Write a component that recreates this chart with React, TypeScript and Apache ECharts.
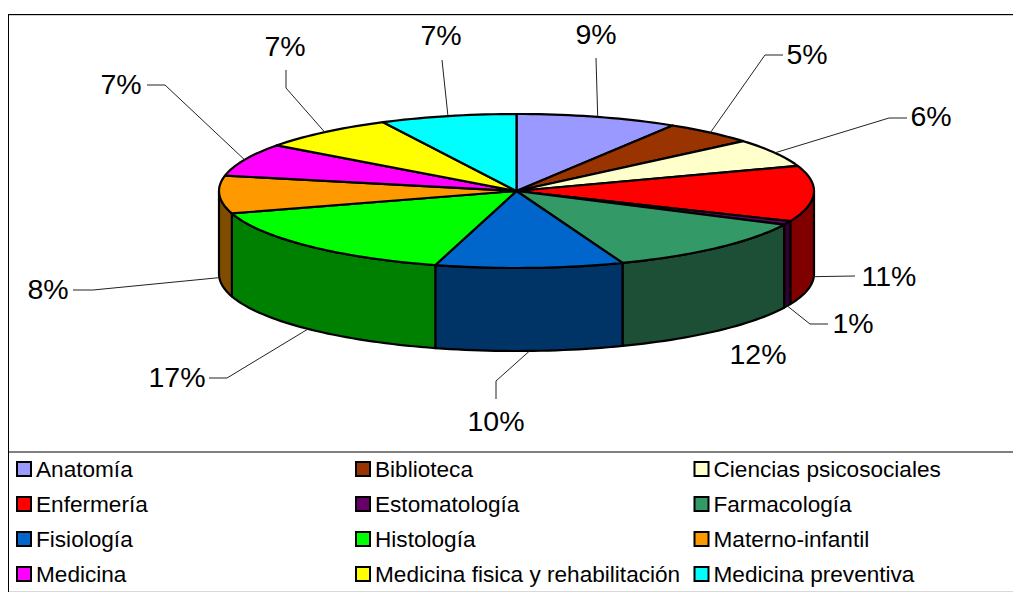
import React, { useEffect, useRef } from "react";
import * as echarts from "echarts";

const categories = [
  "Anatomía", "Biblioteca", "Ciencias psicosociales", "Enfermería", "Estomatología", "Farmacología",
  "Fisiología", "Histología", "Materno-infantil", "Medicina", "Medicina fisica y rehabilitación", "Medicina preventiva",
];
// Slice sizes as drawn (share of the full turn)
const sliceShares = [8.8, 5.0, 5.9, 11.7, 0.8, 12.0, 10.2, 15.9, 7.9, 6.9, 7.5, 7.4];
// Percent labels as printed
const percentLabels = ["9%", "5%", "6%", "11%", "1%", "12%", "10%", "17%", "8%", "7%", "7%", "7%"];
const topColors = ["#9999FF", "#993300", "#FFFFCC", "#FF0000", "#660066", "#339966", "#0066CC", "#00FF00", "#FF9900", "#FF00FF", "#FFFF00", "#00FFFF"];
const wallColors = ["#4D4D80", "#4D1A00", "#808066", "#800000", "#330033", "#1C4F36", "#003366", "#008000", "#804D00", "#800080", "#808000", "#008080"];

// Layout only
const CX = 516.5, CY = 191, RX = 297.5, RY = 77, DEPTH = 83;
const FONT = '"Liberation Sans", Arial, sans-serif';
// per slice: leader points after the rim anchor, label centre
const leaderLayout: { pts: number[][]; label: number[] }[] = [
  { pts: [[596, 58]], label: [596, 34] },
  { pts: [[765, 55], [783, 55]], label: [807, 54] },
  { pts: [[889, 118], [907, 118]], label: [931, 116] },
  { pts: [[855, 276]], label: [889, 276] },
  { pts: [[810, 324], [828, 324]], label: [853, 323] },
  { pts: [], label: [758, 354] },
  { pts: [[496, 381], [496, 399]], label: [496, 421] },
  { pts: [[227, 378], [209, 378]], label: [177, 377] },
  { pts: [[93, 290], [73, 290]], label: [48, 289] },
  { pts: [[165, 85], [147, 85]], label: [121, 84] },
  { pts: [[286, 88], [286, 70]], label: [285, 46] },
  { pts: [[442, 60]], label: [441, 35] },
];

const total = sliceShares.reduce((a, b) => a + b, 0);
const rim = (t: number, dy = 0) => [CX + RX * Math.sin(t), CY - RY * Math.cos(t) + dy];
const arcPts = (a: number, b: number, dy = 0) => {
  const n = Math.max(2, Math.ceil(((b - a) / (2 * Math.PI)) * 240));
  const out: number[][] = [];
  for (let i = 0; i <= n; i++) out.push(rim(a + ((b - a) * i) / n, dy));
  return out;
};

function makeSeries(idx: number) {
  const before = sliceShares.slice(0, idx).reduce((a, b) => a + b, 0);
  const a = (before / total) * 2 * Math.PI;
  const b = ((before + sliceShares[idx]) / total) * 2 * Math.PI;
  const renderItem = () => {
    const children: any[] = [];
    const wa = Math.max(a, Math.PI / 2);
    const wb = Math.min(b, (3 * Math.PI) / 2);
    if (wb > wa) {
      children.push({
        type: "polygon",
        shape: { points: [...arcPts(wa, wb), ...arcPts(wa, wb, DEPTH).reverse()] },
        style: { fill: wallColors[idx], stroke: "#000", lineWidth: 2.2, lineJoin: "round" },
      });
    }
    children.push({
      type: "polygon",
      shape: { points: [[CX, CY], ...arcPts(a, b)] },
      style: { fill: topColors[idx], stroke: "#000", lineWidth: 2.2, lineJoin: "round" },
    });
    const mid = (a + b) / 2;
    const front = Math.cos(mid) < 0;
    const lay = leaderLayout[idx];
    if (lay.pts.length) {
      children.push({
        type: "polyline",
        shape: { points: [rim(mid, front ? DEPTH : 0), ...lay.pts] },
        style: { fill: "none", stroke: "#222", lineWidth: 1 },
      });
    }
    children.push({
      type: "text",
      style: {
        text: percentLabels[idx], x: lay.label[0], y: lay.label[1], fill: "#000",
        font: `28.5px ${FONT}`, align: "center", verticalAlign: "middle",
      },
    });
    return { type: "group", children };
  };
  return {
    type: "custom", name: categories[idx], coordinateSystem: "none", clip: false, silent: true,
    itemStyle: { color: topColors[idx] }, data: [[sliceShares[idx]]], renderItem, z: 3,
  };
}

const legendCol = (names: string[], left: number) => ({
  orient: "vertical", left, top: 457, padding: 0, itemWidth: 14, itemHeight: 14, itemGap: 11,
  selectedMode: false, data: names.map((name) => ({ name, icon: "rect" })),
  itemStyle: { borderColor: "#000", borderWidth: 2 },
  textStyle: { color: "#000", fontFamily: FONT, fontSize: 22.6, lineHeight: 24, padding: 0 },
});

export default function App() {
  const ref = useRef<HTMLDivElement>(null);
  useEffect(() => {
    const chart = echarts.init(ref.current!, undefined, { renderer: "svg" });
    chart.setOption({
      animation: false,
      backgroundColor: "#fff",
      legend: [
        legendCol([categories[0], categories[3], categories[6], categories[9]], 16),
        legendCol([categories[1], categories[4], categories[7], categories[10]], 355),
        legendCol([categories[2], categories[5], categories[8], categories[11]], 693.5),
      ],
      graphic: [
        { type: "line", shape: { x1: 8.5, y1: 14, x2: 8.5, y2: 592 }, style: { stroke: "#000", lineWidth: 1 }, z: 1 },
        { type: "line", shape: { x1: 8, y1: 14.5, x2: 1013, y2: 14.5 }, style: { stroke: "#000", lineWidth: 1 }, z: 1 },
        { type: "line", shape: { x1: 9, y1: 15.5, x2: 1013, y2: 15.5 }, style: { stroke: "#d0d0d0", lineWidth: 1 }, z: 1 },
        { type: "line", shape: { x1: 9, y1: 452, x2: 1013, y2: 452 }, style: { stroke: "#808080", lineWidth: 2 }, z: 1 },
        { type: "line", shape: { x1: 9, y1: 591.5, x2: 1013, y2: 591.5 }, style: { stroke: "#d9d9d9", lineWidth: 1 }, z: 1 },
      ],
      series: categories.map((_, i) => makeSeries(i)),
    });
    return () => chart.dispose();
  }, []);
  return <div ref={ref} style={{ position: "fixed", left: 0, top: 0, width: 1013, height: 592 }} />;
}
